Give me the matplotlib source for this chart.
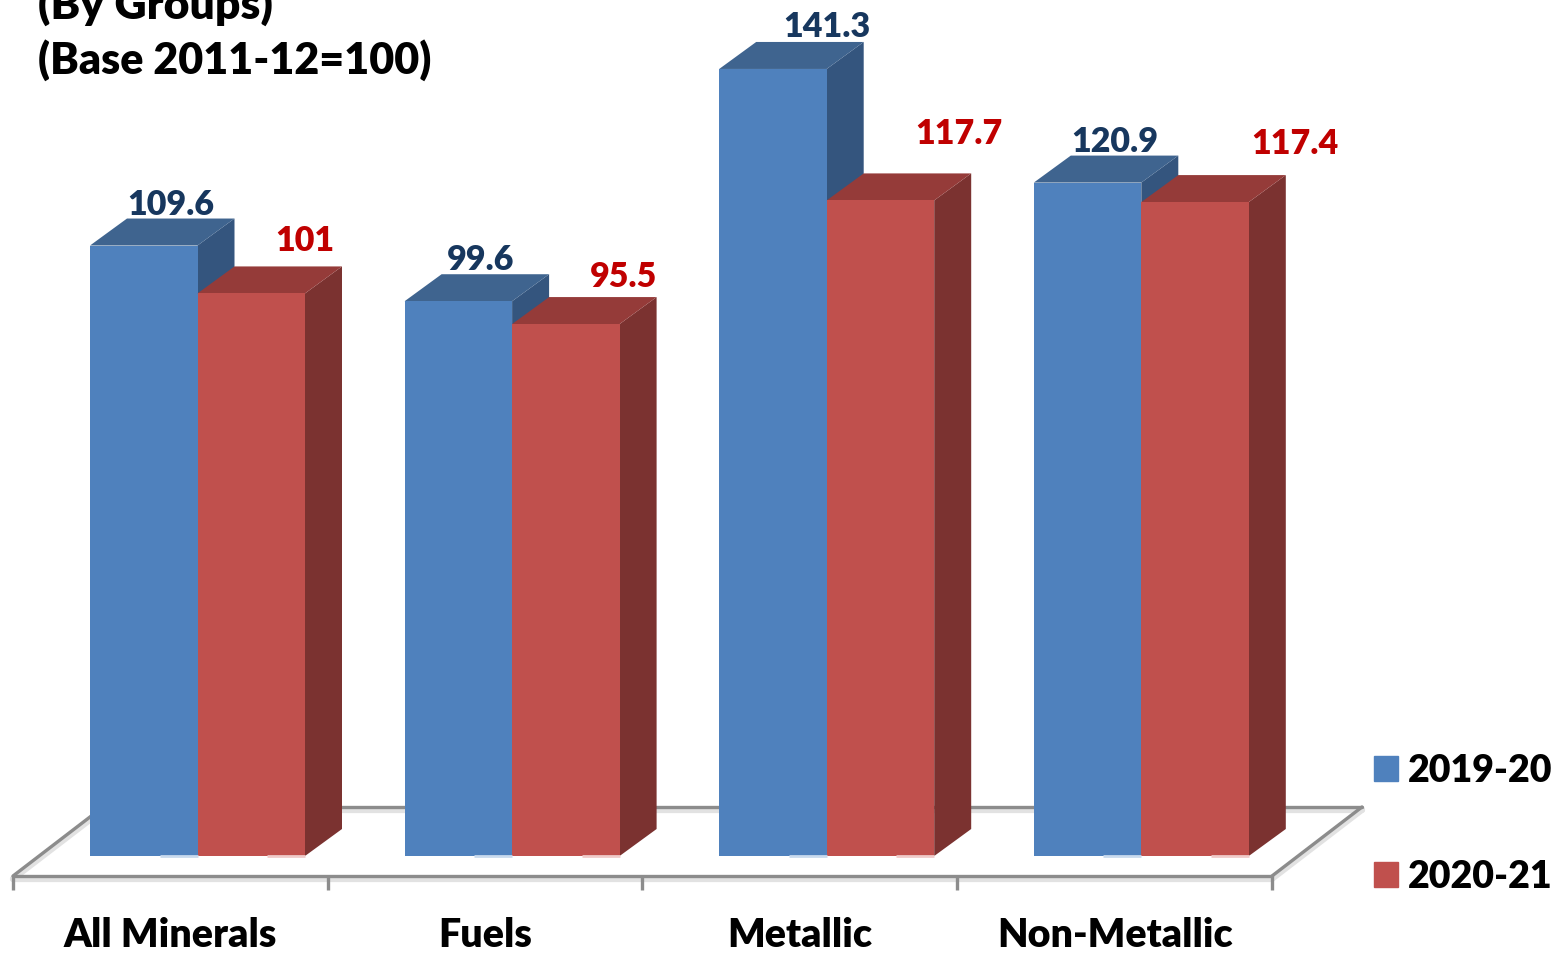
import matplotlib
matplotlib.use("Agg")
import matplotlib.pyplot as plt
from matplotlib.patches import Polygon, Patch

plt.rcParams['font.family'] = ['Lato', 'DejaVu Sans']
plt.rcParams['font.weight'] = 800

# --- data ---
groups = ["All Minerals", "Fuels", "Metallic", "Non-Metallic"]
values_1920 = [109.6, 99.6, 141.3, 120.9]
values_2021 = [101, 95.5, 117.7, 117.4]
labels_1920 = ["109.6", "99.6", "141.3", "120.9"]
labels_2021 = ["101", "95.5", "117.7", "117.4"]

# --- scale: one group = 314.6 px, one index point = 5.57 px ---
W, H = 1555, 954
GROUP_PX, UNIT_PX = 314.6, 5.57
X0_PX, Y0_PX = 197.5, 857

BAR_W = 107.5 / GROUP_PX
DX = 37 / GROUP_PX   # depth of the fake 3d box
DY = 27 / UNIT_PX

BLUE, BLUE_TOP, BLUE_SIDE = "#4F81BD", "#3F648F", "#34557E"
RED, RED_TOP, RED_SIDE = "#C0504D", "#953B39", "#7B3230"
FLOOR = "#8C8C8C"

# hand placed data labels: offset from bar centre (px), height above bar back edge (px)
nudge_1920 = [(27, 15), (22, 15), (54, 16), (27, 15)]
nudge_2021 = [(54, 26), (58, 21), (78, 40), (100, 32)]


def px_x(px):
    return (px - X0_PX) / GROUP_PX


def px_y(px):
    return (Y0_PX - px) / UNIT_PX


fig = plt.figure(figsize=(W / 100, H / 100), dpi=100)
ax = fig.add_axes([0, 0, 1, 1])
ax.set_xlim(px_x(0), px_x(W))
ax.set_ylim(px_y(H), px_y(0))
ax.axis("off")


# --- floor ---
def floor_line(xs, ys):
    ax.plot(xs, [y - 0.5 for y in ys], color="#E2E2E2", lw=4.5, zorder=1, solid_capstyle="round")
    ax.plot(xs, ys, color=FLOOR, lw=2.4, zorder=1.1, solid_capstyle="round")


fx0, fx1 = px_x(13), px_x(1272)
fy = px_y(877)
fdx, fdy = 90 / GROUP_PX, 69 / UNIT_PX
floor_line([fx0, fx1], [fy, fy])
floor_line([fx0, fx0 + fdx], [fy, fy + fdy])
floor_line([fx1, fx1 + fdx], [fy, fy + fdy])
floor_line([fx0 + fdx, fx1 + fdx], [fy + fdy, fy + fdy])
for i in range(len(groups) + 1):
    tx = fx0 + i * (fx1 - fx0) / len(groups)
    ax.plot([tx, tx], [fy, px_y(891)], color=FLOOR, lw=2.4, zorder=1.1, solid_capstyle="butt")


# --- bars ---
def bar3d(x, v, front, top, side, z):
    ax.bar(x, v, width=BAR_W, align="edge", color=front, linewidth=0, zorder=z + 0.2)
    r = x + BAR_W
    ax.add_patch(Polygon([(x, v), (r, v), (r + DX, v + DY), (x + DX, v + DY)],
                         closed=True, fc=top, ec="none", zorder=z + 0.1))
    ax.add_patch(Polygon([(r, 0), (r, v), (r + DX, v + DY), (r + DX, DY)],
                         closed=True, fc=side, ec="none", zorder=z))


for i, g in enumerate(groups):
    bar3d(i - BAR_W, values_1920[i], BLUE, BLUE_TOP, BLUE_SIDE, 2 + i)
    bar3d(i, values_2021[i], RED, RED_TOP, RED_SIDE, 2.5 + i)
    # pale strip along the bottom edge
    ax.plot([i - 38 / GROUP_PX, i], [0, 0], color="#C9DAEE", lw=2, zorder=8, solid_capstyle="butt")
    ax.plot([i + BAR_W - 38 / GROUP_PX, i + BAR_W], [0, 0], color="#F0CBCA", lw=2, zorder=8,
            solid_capstyle="butt")

    nx, ny = nudge_1920[i]
    ax.text(i - BAR_W / 2 + nx / GROUP_PX, values_1920[i] + DY + ny / UNIT_PX, labels_1920[i],
            color="#17375E", fontsize=24.5, ha="center", va="center", zorder=9)
    nx, ny = nudge_2021[i]
    ax.text(i + BAR_W / 2 + nx / GROUP_PX, values_2021[i] + DY + ny / UNIT_PX, labels_2021[i],
            color="#C00000", fontsize=24.5, ha="center", va="center", zorder=9)

    ax.text(fx0 + (i + 0.5) * (fx1 - fx0) / len(groups), px_y(936), g, color="black",
            fontsize=28.4, ha="center", va="center")

# --- title, partly cut off at the top edge ---
ax.text(px_x(38), px_y(5), "(By Groups)", fontsize=32, color="black", ha="left", va="center")
ax.text(px_x(38), px_y(60.5), "(Base 2011-12=100)", fontsize=31, color="black", ha="left", va="center")

# --- legend ---
handles = [Patch(color=BLUE, label="2019-20"), Patch(color=RED, label="2020-21")]
leg = ax.legend(handles=handles, loc="center left", bbox_to_anchor=(1358 / W, 1 - 824.5 / H),
                frameon=False, fontsize=27, handlelength=0.64, handleheight=0.64,
                labelspacing=1.92, handletextpad=0.26, borderpad=0, borderaxespad=0.42)

fig.savefig("out.png", dpi=100, facecolor="white")
